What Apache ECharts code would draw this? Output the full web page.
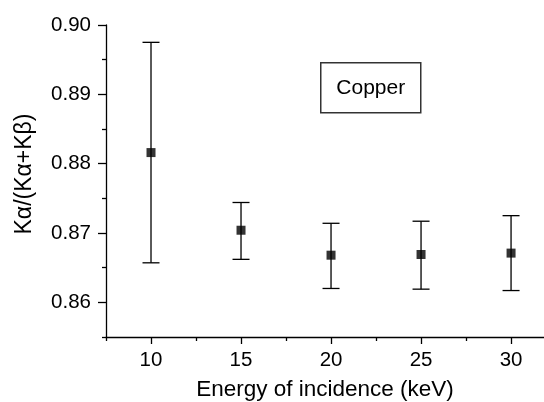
<!DOCTYPE html>
<html>
<head>
<meta charset="utf-8">
<script src="https://cdn.jsdelivr.net/npm/echarts@6/dist/echarts.min.js"></script>
<style>html,body{margin:0;padding:0;background:#fff}#c{width:544px;height:402px}</style>
</head>
<body>
<div id="c"></div>
<script>
const energies = [10, 15, 20, 25, 30];
const ratios = [0.8816, 0.8704, 0.8668, 0.8669, 0.8671];
const upper = [0.8975, 0.8744, 0.8714, 0.8717, 0.8725];
const lower = [0.8657, 0.8662, 0.8620, 0.8619, 0.8617];
const xMajorTicks = [10, 15, 20, 25, 30];
const xMinorTicks = [7.5, 12.5, 17.5, 22.5, 27.5];
const yMajorTicks = [0.86, 0.87, 0.88, 0.89, 0.90];
const yMinorTicks = [0.855, 0.865, 0.875, 0.885, 0.895];
const annotation = 'Copper';

const font = 'Liberation Sans, Arial, Helvetica, sans-serif';
const chart = echarts.init(document.getElementById('c'));
const xMin = 7.5, xMax = 31.83, yMin = 0.855, yMax = 0.90;

chart.setOption({
  animation: false,
  backgroundColor: '#fff',
  grid: { left: 106, right: 0, top: 25, bottom: 65, containLabel: false, outerBoundsMode: 'none' },
  xAxis: [{
    type: 'value', min: xMin, max: xMax,
    name: 'Energy of incidence (keV)', nameLocation: 'middle', nameGap: 41,
    nameTextStyle: { fontFamily: font, fontSize: 22.5, color: '#000' },
    axisLine: { show: true, onZero: false, lineStyle: { color: '#000', width: 1.3 } },
    axisTick: { show: true, customValues: xMajorTicks, length: 7, lineStyle: { color: '#000', width: 1.3 } },
    axisLabel: { customValues: xMajorTicks, fontFamily: font, fontSize: 20.5, color: '#000', margin: 13 },
    splitLine: { show: false }
  }, {
    type: 'value', min: xMin, max: xMax, position: 'bottom',
    axisLine: { show: false },
    axisTick: { show: true, customValues: xMinorTicks, length: 4, lineStyle: { color: '#000', width: 1.3 } },
    axisLabel: { show: false },
    splitLine: { show: false }
  }],
  yAxis: [{
    type: 'value', min: yMin, max: yMax,
    name: 'Kα/(Kα+Kβ)', nameLocation: 'middle', nameGap: 70, nameRotate: 90,
    nameTextStyle: { fontFamily: font, fontSize: 23, color: '#000', padding: [0, 0, 0, 14] },
    axisLine: { show: true, onZero: false, lineStyle: { color: '#000', width: 1.3 } },
    axisTick: { show: true, customValues: yMajorTicks, length: 8, lineStyle: { color: '#000', width: 1.3 } },
    axisLabel: { customValues: yMajorTicks, fontFamily: font, fontSize: 20.5, color: '#000', margin: 15,
      formatter: v => v.toFixed(2) },
    splitLine: { show: false }
  }, {
    type: 'value', min: yMin, max: yMax, position: 'left',
    axisLine: { show: false },
    axisTick: { show: true, customValues: yMinorTicks, length: 4, lineStyle: { color: '#000', width: 1.3 } },
    axisLabel: { show: false },
    splitLine: { show: false }
  }],
  series: [{
    type: 'custom',
    data: energies.map((e, i) => [e, lower[i], upper[i]]),
    renderItem: function (params, api) {
      const lo = api.coord([api.value(0), api.value(1)]);
      const hi = api.coord([api.value(0), api.value(2)]);
      const w = 8.5;
      const st = { stroke: '#000', lineWidth: 1.3 };
      return { type: 'group', children: [
        { type: 'line', shape: { x1: hi[0], y1: hi[1], x2: lo[0], y2: lo[1] }, style: st },
        { type: 'line', shape: { x1: hi[0] - w, y1: hi[1], x2: hi[0] + w, y2: hi[1] }, style: st },
        { type: 'line', shape: { x1: lo[0] - w, y1: lo[1], x2: lo[0] + w, y2: lo[1] }, style: st }
      ]};
    },
    z: 2
  }, {
    type: 'scatter',
    data: energies.map((e, i) => [e, ratios[i]]),
    symbol: 'rect', symbolSize: 9,
    itemStyle: { color: '#000' },
    z: 3
  }],
  graphic: [{
    type: 'group', left: 320, top: 62,
    children: [{
      type: 'rect', shape: { x: 0, y: 0, width: 100, height: 50 },
      style: { fill: '#fff', stroke: '#333', lineWidth: 1.5 }
    }, {
      type: 'text', x: 50, y: 25,
      style: { text: annotation, fontFamily: font, fontSize: 21, fill: '#000', align: 'center', verticalAlign: 'middle' }
    }]
  }]
});
</script>
</body>
</html>
